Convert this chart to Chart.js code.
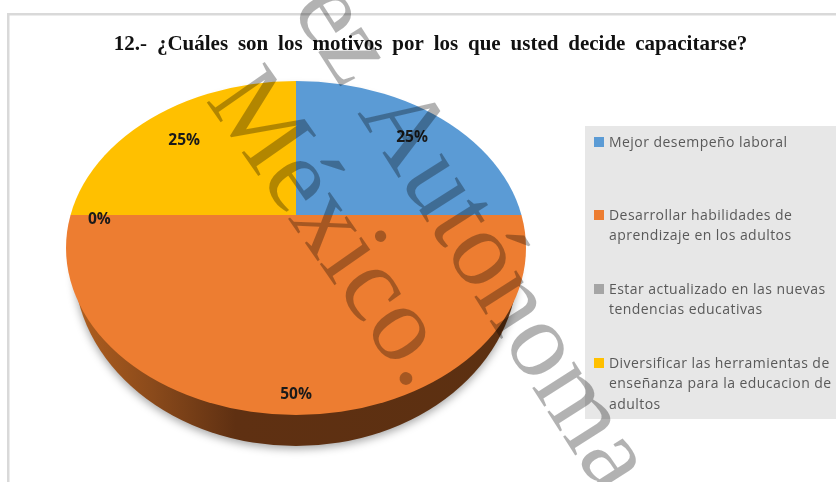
<!DOCTYPE html>
<html>
<head>
<meta charset="utf-8">
<script src="https://cdn.jsdelivr.net/npm/chart.js@4"></script>
<style>
html, body { margin: 0; padding: 0; background: #fff; }
#wrap { width: 836px; height: 482px; }
canvas { display: block; filter: blur(0.4px); }
</style>
</head>
<body>
<div id="wrap"><canvas id="pie" width="836" height="482"></canvas></div>
<script>
var titleText = '12.- ¿Cuáles son los motivos por los que usted decide capacitarse?';
var categories = [
    ['Mejor desempeño laboral'],
    ['Desarrollar habilidades de', 'aprendizaje en los adultos'],
    ['Estar actualizado en las nuevas', 'tendencias educativas'],
    ['Diversificar las herramientas de', 'enseñanza para la educacion de', 'adultos']
];
var values = [25, 50, 0, 25];
var sliceColors = ['#5b9bd5', '#ed7d31', '#a5a5a5', '#ffc000'];

// how far along the radius each percentage sits, and a small vertical nudge
var labelRadius = [0.726, 0.89, 0.87, 0.70];
var labelNudge = [0, 1, 5, 0];
var legendRows = [142, 215, 289, 363];
var watermarks = [
    { text: 'México.', x: 205, y: 100, angle: 55 },
    { text: 'ez Autónoma', x: 291, y: 9, angle: 57.5 }
];

// the face is an ellipse whose slices meet above its middle (perspective)
var face = { x: 296, y: 248, rx: 230, ry: 167 };
var base = { x: 296, y: 265, rx: 222, ry: 181 };
var apex = { x: 296, y: 215 };
var stretch = { x: 260, y: 240 };

function ellipsePath(ctx, e) {
    ctx.beginPath();
    ctx.ellipse(e.x, e.y, e.rx, e.ry, 0, 0, Math.PI * 2);
}

var piePerspective = {
    id: 'piePerspective',
    afterLayout: function (chart) {
        chart.titleBlock.left = 113;
        chart.titleBlock.right = 748;
    },
    beforeDraw: function (chart) {
        var ctx = chart.ctx;
        ctx.fillStyle = '#d9d9d9';
        ctx.fillRect(7, 13, 829, 2.5);
        ctx.fillRect(7, 13, 2.5, 469);
        ctx.wordSpacing = '4.6px';
    },
    beforeDatasetsDraw: function (chart) {
        var ctx = chart.ctx;
        var arc = chart.getDatasetMeta(0).data[0];
        ctx.wordSpacing = '0px';

        // side wall
        var wall = ctx.createLinearGradient(70, 0, 530, 0);
        wall.addColorStop(0, '#b3601f');
        wall.addColorStop(0.18, '#8a4a1b');
        wall.addColorStop(0.36, '#5f3012');
        wall.addColorStop(1, '#5c3011');
        ctx.save();
        ctx.shadowColor = 'rgba(0,0,0,0.35)';
        ctx.shadowBlur = 8;
        ctx.shadowOffsetY = 3;
        ctx.fillStyle = wall;
        ellipsePath(ctx, base);
        ctx.fill();
        ctx.restore();

        // face
        ctx.save();
        ellipsePath(ctx, face);
        ctx.clip();
        ctx.translate(apex.x, apex.y);
        ctx.scale(stretch.x / arc.outerRadius, stretch.y / arc.outerRadius);
        ctx.translate(-arc.x, -arc.y);
    },
    afterDatasetsDraw: function (chart) {
        var ctx = chart.ctx;
        ctx.restore();

        // percentage labels
        var meta = chart.getDatasetMeta(0);
        ctx.save();
        ctx.font = 'bold 15.5px "Open Sans"';
        ctx.fillStyle = '#1a1a1a';
        ctx.textAlign = 'center';
        ctx.textBaseline = 'middle';
        meta.data.forEach(function (a, i) {
            var mid = (a.startAngle + a.endAngle) / 2;
            var ry = Math.sin(mid) > 0 ? 201 : 150;
            var lx = apex.x + Math.cos(mid) * 226 * labelRadius[i];
            var ly = apex.y + Math.sin(mid) * ry * labelRadius[i] + labelNudge[i];
            ctx.fillText(values[i] + '%', lx, ly);
        });
        ctx.restore();

        // legend panel
        ctx.save();
        ctx.fillStyle = '#e7e7e7';
        ctx.fillRect(585, 126, 251, 293);
        ctx.font = '14px "Open Sans"';
        ctx.letterSpacing = '0.45px';
        ctx.textBaseline = 'middle';
        categories.forEach(function (lines, i) {
            ctx.fillStyle = sliceColors[i];
            ctx.fillRect(594, legendRows[i] - 5, 10, 10);
            ctx.fillStyle = '#595959';
            lines.forEach(function (line, n) {
                ctx.fillText(line, 609, legendRows[i] + 1 + n * 20.5);
            });
        });
        ctx.restore();
    },
    afterDraw: function (chart) {
        var ctx = chart.ctx;
        ctx.save();
        ctx.font = '108px "Liberation Serif"';
        ctx.fillStyle = 'rgba(0,0,0,0.3)';
        watermarks.forEach(function (w) {
            ctx.save();
            ctx.translate(w.x, w.y);
            ctx.rotate(w.angle * Math.PI / 180);
            ctx.fillText(w.text, 0, 0);
            ctx.restore();
        });
        ctx.restore();
    }
};

var pieChart = new Chart(document.getElementById('pie').getContext('2d'), {
    type: 'pie',
    data: {
        labels: categories,
        datasets: [
            {
                data: values,
                backgroundColor: sliceColors,
                borderWidth: 0,
                clip: false
            }
        ]
    },
    options: {
        responsive: false,
        animation: false,
        layout: {
            padding: { left: 66, right: 310, top: 0, bottom: 133 }
        },
        plugins: {
            legend: { display: false },
            tooltip: { enabled: false },
            title: {
                display: true,
                text: titleText,
                color: '#111',
                font: { family: '"Liberation Serif"', size: 21, weight: 'bold' },
                padding: { top: 32, bottom: 23.8 }
            }
        }
    },
    plugins: [piePerspective]
});
</script>
</body>
</html>
